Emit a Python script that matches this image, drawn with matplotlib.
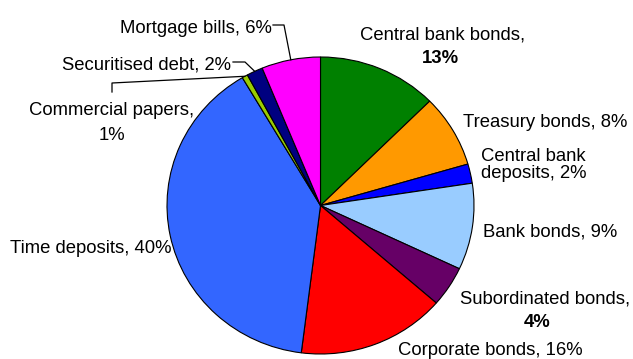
import numpy as np
import matplotlib.pyplot as plt

plt.rcParams['font.family'] = ['Liberation Sans', 'DejaVu Sans']

# portfolio shares (%), clockwise from 12 o'clock
labels = ['Central bank bonds', 'Treasury bonds', 'Central bank deposits',
          'Bank bonds', 'Subordinated bonds', 'Corporate bonds',
          'Time deposits', 'Commercial papers', 'Securitised debt',
          'Mortgage bills']
shares = [12.6, 7.9, 2.1, 9.4, 4.4, 15.6, 39.5, 0.6, 1.7, 6.2]
colors = ['#008000', '#FF9900', '#0000FF', '#99CCFF', '#660066',
          '#FF0000', '#3366FF', '#99CC00', '#000080', '#FF00FF']

W, H = 633, 359
# pie centre / radii in pixels (slightly wider than tall)
CX, CY, RX, RY = 320.5, 205.5, 153.5, 148.5
FS = 13.3


def pct(v):
    return '%d%%' % int(v + 0.5)


fig = plt.figure(figsize=(W / 100, H / 100), dpi=100)
ax = fig.add_axes([(CX - RX) / W, (H - (CY + RY)) / H, 2 * RX / W, 2 * RY / H])
wedges, _ = ax.pie(shares, colors=colors, startangle=90, counterclock=False,
                   radius=1, wedgeprops=dict(edgecolor='black', linewidth=0.8))
ax.set_aspect('auto')
ax.set_xlim(-1, 1)
ax.set_ylim(-1, 1)
ax.axis('off')

# overlay in pixel coordinates for the labels and leader lines
lx = fig.add_axes([0, 0, 1, 1], facecolor='none')
lx.set_xlim(0, W)
lx.set_ylim(H, 0)
lx.axis('off')


def edge(i):
    w = wedges[i]
    t = np.deg2rad((w.theta1 + w.theta2) / 2)
    return CX + RX * np.cos(t), CY - RY * np.sin(t)


def txt(x, y, s, ha='left', bold=False):
    lx.text(x, y, s, ha=ha, va='baseline', fontsize=FS,
            fontweight='bold' if bold else 'normal', color='black')


def leader(i, pts):
    ex, ey = edge(i)
    xs = [p[0] for p in pts] + [ex]
    ys = [p[1] for p in pts] + [ey]
    lx.plot(xs, ys, color='black', lw=0.9, clip_on=False)


v = dict(zip(labels, shares))

txt(443, 39.3, 'Central bank bonds,', ha='center')
txt(440.5, 63, pct(v['Central bank bonds']), ha='center', bold=True)
txt(463, 126.7, 'Treasury bonds, ' + pct(v['Treasury bonds']))
txt(480.7, 161, 'Central bank')
txt(480.7, 178.3, 'deposits, ' + pct(v['Central bank deposits']))
txt(482.7, 236.7, 'Bank bonds, ' + pct(v['Bank bonds']))
txt(545, 303.3, 'Subordinated bonds,', ha='center')
txt(537, 326.7, pct(v['Subordinated bonds']), ha='center', bold=True)
txt(398.3, 355, 'Corporate bonds, ' + pct(v['Corporate bonds']))
txt(10, 253.3, 'Time deposits, ' + pct(v['Time deposits']))
txt(111.7, 115, 'Commercial papers,', ha='center')
txt(112, 140, pct(v['Commercial papers']), ha='center')
txt(231, 69, 'Securitised debt, ' + pct(v['Securitised debt']), ha='right')
txt(271.7, 33.3, 'Mortgage bills, ' + pct(v['Mortgage bills']), ha='right')

leader(labels.index('Mortgage bills'), [(273, 25), (284, 25)])
leader(labels.index('Securitised debt'), [(233, 62), (245, 62)])
leader(labels.index('Commercial papers'), [(112, 92), (112, 83)])

fig.savefig('out.png', dpi=100)
